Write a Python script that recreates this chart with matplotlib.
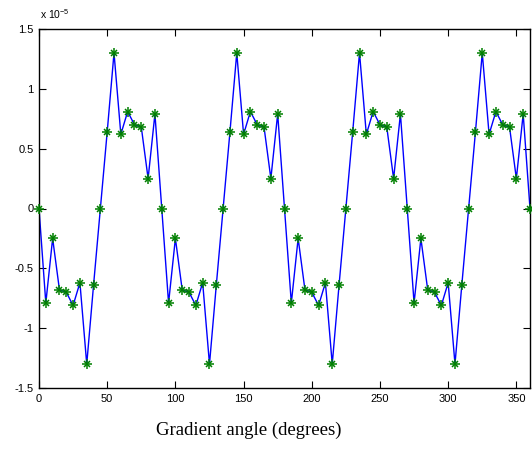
import numpy as np
import matplotlib
matplotlib.use('Agg')
import matplotlib.pyplot as plt
from matplotlib.ticker import FuncFormatter

# gradient angle, every 5 degrees
angle = np.arange(0, 361, 5)

# response in units of 1e-5
scale = 1e-5
resp = [0.00, -0.79, -0.25, -0.68, -0.70, -0.81, -0.62, -1.30, -0.64,
        0.00, 0.64, 1.30, 0.62, 0.81, 0.70, 0.68, 0.25, 0.79,
        0.00, -0.79, -0.25, -0.68, -0.70, -0.81, -0.62, -1.30, -0.64,
        0.00, 0.64, 1.30, 0.62, 0.81, 0.70, 0.68, 0.25, 0.79,
        0.00, -0.79, -0.25, -0.68, -0.70, -0.81, -0.62, -1.30, -0.64,
        0.00, 0.64, 1.30, 0.62, 0.81, 0.70, 0.68, 0.25, 0.79,
        0.00, -0.79, -0.25, -0.68, -0.70, -0.81, -0.62, -1.30, -0.64,
        0.00, 0.64, 1.30, 0.62, 0.81, 0.70, 0.68, 0.25, 0.79,
        0.00]

xticks = [0, 50, 100, 150, 200, 250, 300, 350]
yticks = [-1.5, -1, -0.5, 0, 0.5, 1, 1.5]

plt.rcParams['font.family'] = ['Liberation Sans', 'DejaVu Sans']

fig = plt.figure(figsize=(5.32, 4.51), dpi=100)
ax = fig.add_axes([39 / 532, 1 - 388 / 451, 491 / 532, 359 / 451])

y = np.array(resp) * scale
ax.plot(angle, y, color='#0000ff', linewidth=1, zorder=2)
# matlab-style asterisk: plus + cross
ax.plot(angle, y, linestyle='none', marker='+', markersize=7, markeredgewidth=1.1,
        color='#008000', zorder=3, clip_on=False)
ax.plot(angle, y, linestyle='none', marker='x', markersize=5, markeredgewidth=1.1,
        color='#008000', zorder=3, clip_on=False)

ax.set_xlim(0, 360)
ax.set_ylim(-1.5 * scale, 1.5 * scale)
ax.set_xticks(xticks)
ax.set_yticks([t * scale for t in yticks])
ax.yaxis.set_major_formatter(FuncFormatter(lambda v, p: '%g' % round(v / scale, 2)))
ax.tick_params(direction='in', top=True, right=True, length=5, width=0.8,
               labelsize=8, pad=4)
for s in ax.spines.values():
    s.set_linewidth(1)

fig.text(40 / 532, 1 - 19 / 451, r'x 10$^{\mathregular{-5}}$', fontsize=7.5, va='baseline')
fig.text(249 / 532, 1 - 430 / 451, 'Gradient angle (degrees)', ha='center', va='center',
         fontsize=13.5, family=['Liberation Serif', 'DejaVu Serif'])

fig.savefig('out.png', dpi=100)
